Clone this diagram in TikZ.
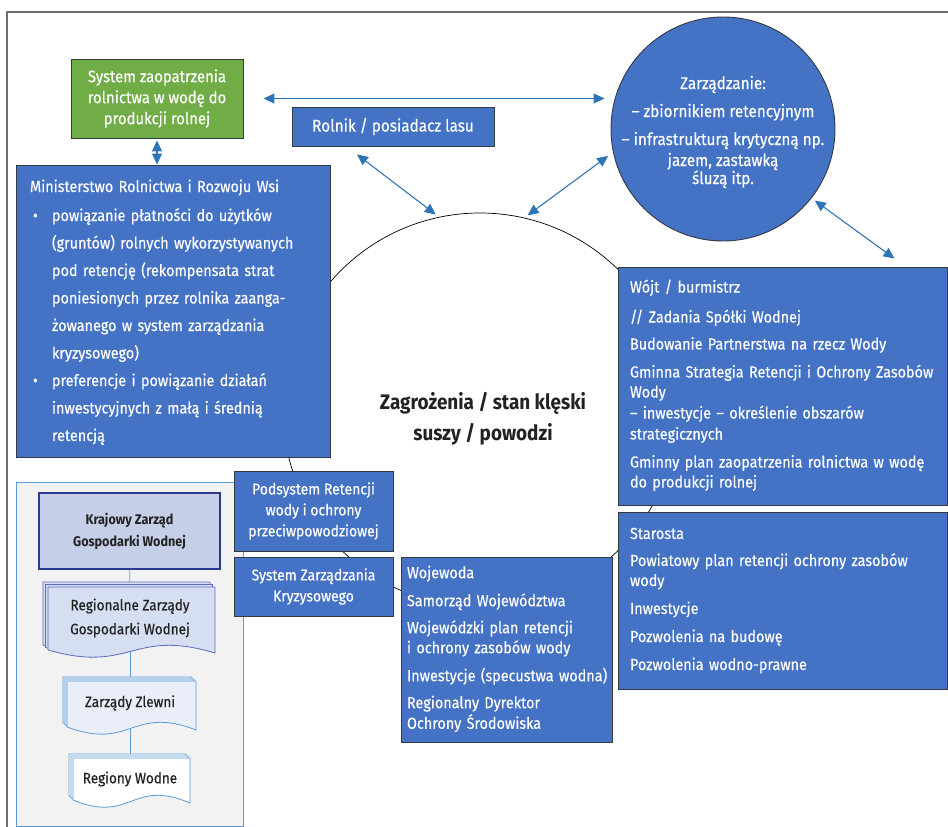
\documentclass[tikz,border=0pt]{standalone}
\usepackage{fontspec}
\setmainfont{Fira Sans}[FakeStretch=0.9, UprightFeatures={FakeBold=0.4}]
\usetikzlibrary{arrows.meta,calc}
\pgfdeclarelayer{back}
\pgfdeclarelayer{mid}
\pgfsetlayers{back,mid,main}

\definecolor{boxblue}{HTML}{4472C4}
\definecolor{boxedge}{HTML}{343A44}
\definecolor{arrblue}{HTML}{2E75B6}
\definecolor{grn}{HTML}{70AD47}
\definecolor{panelfill}{HTML}{F2F2F2}
\definecolor{paneledge}{HTML}{5B9BD5}
\definecolor{kzfill}{HTML}{C5D0E8}
\definecolor{kzedge}{HTML}{2B3990}
\definecolor{rzfill}{HTML}{D6DEF2}
\definecolor{rzedge}{HTML}{5A6BC0}
\definecolor{zlfill}{HTML}{E9EEF8}
\definecolor{docedge}{HTML}{5B9BD5}
\definecolor{darktext}{HTML}{222222}
\definecolor{framegray}{HTML}{6E6E6E}

\newcommand\docshape[5]{\path[#5] (#1,#2) -- (#3,#2) -- (#3,{#4-7}) .. controls ({(#1+#3)/2},{#4-32}) and ({(#1+#3)/2},{#4+14}) .. (#1,{#4-10}) -- cycle;}

\tikzset{
  box/.style={draw=boxedge, line width=0.9pt, fill=boxblue, text=white, inner sep=0pt,
    font=\fontsize{16}{20}\selectfont},
  lbox/.style={box, align=left},
  cbox/.style={box, align=center, font=\fontsize{15.5}{21}\selectfont},
  biarrow/.style={draw=arrblue, line width=1.1pt,
    {Triangle[length=11pt,width=10pt]}-{Triangle[length=11pt,width=10pt]}},
  docline/.style={draw=paneledge, line width=0.9pt},
  doctext/.style={text=darktext, align=center, inner sep=0pt, font=\fontsize{15}{24}\selectfont},
  rzdoc/.style={fill=rzfill, draw=rzedge, line width=0.8pt},
  zldoc/.style={fill=zlfill, draw=docedge, line width=0.8pt},
  rwdoc/.style={fill=white, draw=docedge, line width=0.8pt}
}

\begin{document}
\begin{tikzpicture}[x=1pt,y=-1pt]
\useasboundingbox (0,0) rectangle (948,827);

% ---------- background layer: frame and big circle ----------
\begin{pgfonlayer}{back}
  \draw[framegray, line width=1.4pt] (7,827) -- (7,12) -- (948,12);
  \node[circle, draw=black, line width=0.7pt, fill=white, minimum size=394pt, inner sep=0pt] (big) at (480,410) {};
\end{pgfonlayer}

% ---------- gray panel ----------
\begin{pgfonlayer}{mid}
  \node[draw=paneledge, fill=panelfill, line width=0.9pt, minimum width=227pt, minimum height=344pt, inner sep=0pt] (panel) at (129.5,654) {};
\end{pgfonlayer}

% ---------- top row ----------
\node[box, fill=grn, align=center, font=\fontsize{16.5}{21}\selectfont, minimum width=172pt, minimum height=79pt] (gsys) at (157,98.5)
  {System zaopatrzenia\\rolnictwa w wodę do\\produkcji rolnej};

\node[box, font=\fontsize{17}{21}\selectfont, minimum width=202pt, minimum height=39pt] (rolnik) at (393,126.5)
  {Rolnik / posiadacz lasu};

\node[circle, draw=boxedge, line width=0.9pt, fill=boxblue, minimum size=224pt, inner sep=0pt] (zarz) at (723,129) {};
\node[text=white, align=center, inner sep=0pt, font=\fontsize{17}{18}\selectfont] (zarzt) at (723,132)
  {Zarządzanie:\\[10pt]– zbiornikiem retencyjnym\\[10pt]– infrastrukturą krytyczną np.\\[3pt]jazem, zastawką\\śluzą itp.};

% ---------- Ministerstwo ----------
\node[lbox, font=\fontsize{16}{27.5}\selectfont, minimum width=314pt, minimum height=292pt, text width=286pt] (mrr) at (173,311)
  {\begin{tabular}{@{}l@{}}
   Ministerstwo Rolnictwa i Rozwoju Wsi\\[1.5pt]
   \hspace*{3pt}\makebox[19pt][l]{•}powiązanie płatności do użytków\\
   \hspace*{22pt}(gruntów) rolnych wykorzystywanych\\
   \hspace*{22pt}pod retencję (rekompensata strat\\
   \hspace*{22pt}poniesionych przez rolnika zaanga-\\
   \hspace*{22pt}żowanego w system zarządzania\\
   \hspace*{22pt}kryzysowego)\\
   \hspace*{3pt}\makebox[19pt][l]{•}preferencje i powiązanie działań\\
   \hspace*{22pt}inwestycyjnych z małą i średnią\\
   \hspace*{22pt}retencją
   \end{tabular}};

% ---------- Wójt ----------
\node[lbox, minimum width=329pt, minimum height=238pt, text width=305pt] (wojt) at (782.5,386)
  {\begin{tabular}{@{}l@{}}
   Wójt / burmistrz\\[10pt]
   // Zadania Spółki Wodnej\\[7pt]
   Budowanie Partnerstwa na rzecz Wody\\[8pt]
   Gminna Strategia Retencji i Ochrony Zasobów\\
   Wody\\[1pt]
   – inwestycje – określenie obszarów\\[1pt]
   strategicznych\\[8pt]
   Gminny plan zaopatrzenia rolnictwa w wodę\\
   do produkcji rolnej
   \end{tabular}};

% ---------- Starosta ----------
\node[lbox, minimum width=329pt, minimum height=177pt, text width=305pt] (starosta) at (782.5,600.5)
  {\begin{tabular}{@{}l@{}}
   Starosta\\[7pt]
   Powiatowy plan retencji ochrony zasobów\\
   wody\\[8pt]
   Inwestycje\\[8pt]
   Pozwolenia na budowę\\[8pt]
   Pozwolenia wodno-prawne
   \end{tabular}};

% ---------- Wojewoda ----------
\node[lbox, minimum width=211pt, minimum height=185pt, text width=199pt] (wojewoda) at (506.5,649.5)
  {\begin{tabular}{@{}l@{}}
   Wojewoda\\[8pt]
   Samorząd Województwa\\[7pt]
   Wojewódzki plan retencji\\
   i ochrony zasobów wody\\[8pt]
   Inwestycje (specustwa wodna)\\[7pt]
   Regionalny Dyrektor\\
   Ochrony Środowiska
   \end{tabular}};

% ---------- Podsystem / System Zarządzania ----------
\node[cbox, minimum width=159pt, minimum height=80pt] (podsys) at (313.5,511)
  {Podsystem Retencji\\wody i ochrony\\przeciwpowodziowej};
\node[cbox, minimum width=159pt, minimum height=59pt] (syszk) at (313.5,586.5)
  {System Zarządzania\\Kryzysowego};

% ---------- centre text ----------
\node[text=darktext, align=center, inner sep=0pt, font=\bfseries\fontsize{21}{31}\selectfont] (threat) at (483,419)
  {Zagrożenia / stan klęski\\suszy / powodzi};

% ---------- panel contents ----------
\node[draw=kzedge, line width=2.2pt, fill=kzfill, text=darktext, align=center, inner sep=0pt,
      font=\bfseries\fontsize{14}{22}\selectfont, minimum width=181pt, minimum height=76pt] (kzgw) at (129.5,531)
  {Krajowy Zarząd\\Gospodarki Wodnej};

\docshape{43}{582}{210}{655}{rzdoc}
\docshape{45.5}{584.5}{212.5}{657.5}{rzdoc}
\docshape{48}{587}{215}{660}{rzdoc}
\node[doctext] (rzgw) at (130,618) {Regionalne Zarządy\\Gospodarki Wodnej};

\docshape{63}{677}{192}{733}{zldoc}
\docshape{65}{679}{194}{735}{zldoc}
\docshape{67}{681}{196}{737}{zldoc}
\node[doctext] (zlewni) at (130,703) {Zarządy Zlewni};

\docshape{69}{754}{186}{806}{rwdoc}
\docshape{71}{756}{188}{808}{rwdoc}
\docshape{73}{758}{190}{810}{rwdoc}
\node[doctext] (regiony) at (130,779) {Regiony Wodne};

\begin{pgfonlayer}{mid}
  \draw[docline] (kzgw.center) -- (rzgw.center);
  \draw[docline] (rzgw.center) -- (zlewni.center);
  \draw[docline] (zlewni.center) -- (regiony.center);
\end{pgfonlayer}

% ---------- arrows ----------
\draw[biarrow, shorten <=20pt, shorten >=6pt] (gsys.east) -- (gsys.east -| zarz.west);
\draw[biarrow, shorten <=2pt] (gsys.south) -- (gsys.south |- mrr.north);
\draw[biarrow, shorten >=4pt] ([xshift=-36pt,yshift=-8pt]rolnik.south) -- (big.102);
\draw[biarrow, shorten <=6pt, shorten >=4pt] (zarz.192) -- (big.77);
\draw[biarrow, shorten <=4pt] (zarz.-38) -- ([xshift=112pt,yshift=8pt]wojt.north);

\end{tikzpicture}
\end{document}
